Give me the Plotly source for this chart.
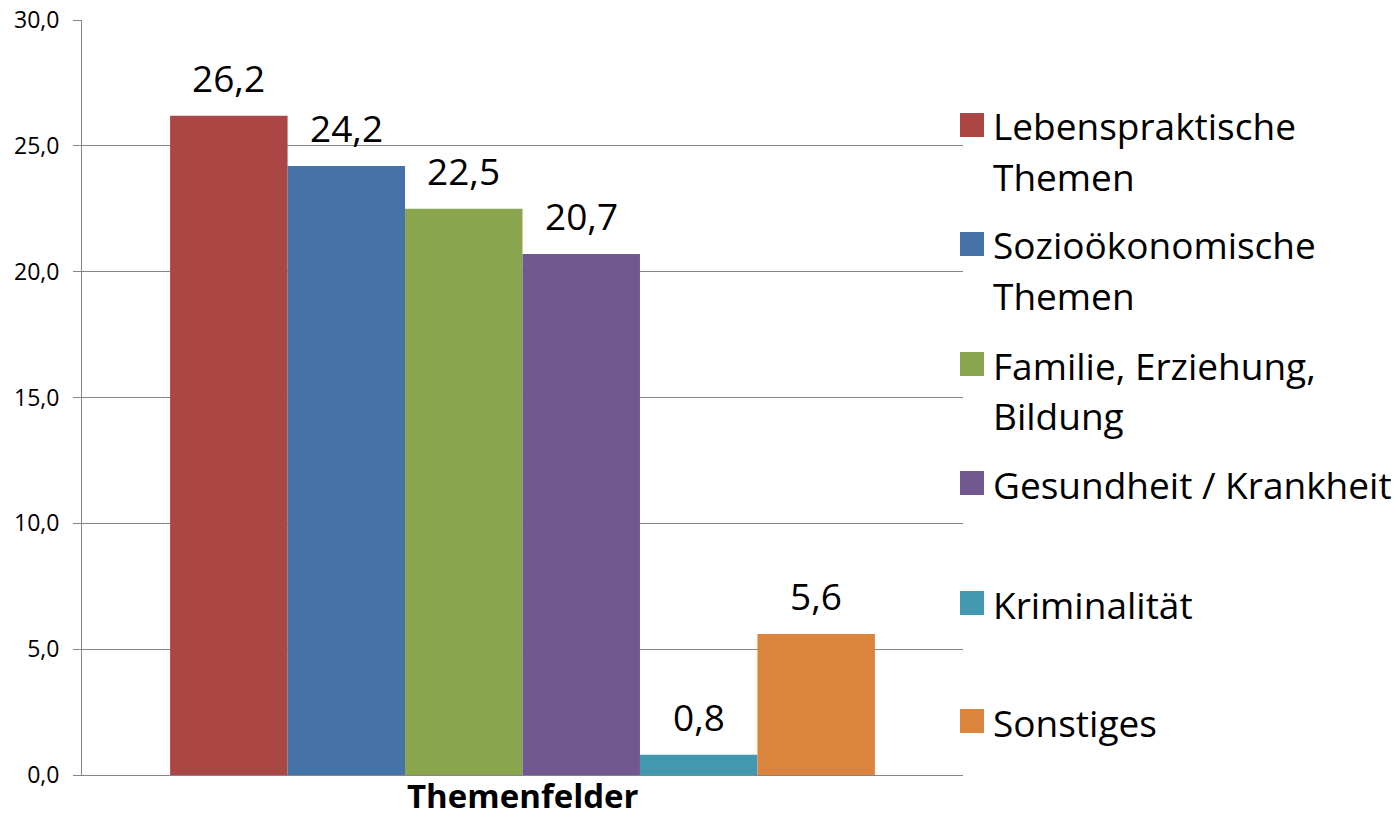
import plotly.graph_objects as go

category = ["Themenfelder"]
series_names = ["Lebenspraktische\nThemen", "Sozioökonomische\nThemen", "Familie, Erziehung,\nBildung",
                "Gesundheit / Krankheit", "Kriminalität", "Sonstiges"]
values = [26.2, 24.2, 22.5, 20.7, 0.8, 5.6]
colors = ["#AA4643", "#4572A7", "#89A54E", "#71588F", "#4198AF", "#DB843D"]
y_ticks = [0, 5, 10, 15, 20, 25, 30]

W, H = 1400, 821
L, R, T, B = 82, 963, 20, 775
FONT = "Open Sans, sans-serif"
BARGAP = 0.2

def px(x):
    return (x - L) / (R - L)

def py(y):
    return (B - y) / (B - T)

fig = go.Figure()
n = len(values)
annotations, shapes = [], []
for i, (name, v, c) in enumerate(zip(series_names, values, colors)):
    fig.add_trace(go.Bar(
        x=category, y=[v], name=name.replace("\n", " "), marker=dict(color=c, line=dict(width=0)),
        showlegend=False, hoverinfo="name+y",
    ))
    # data label above bar
    xc = -(1 - BARGAP) / 2 + (i + 0.5) * (1 - BARGAP) / n
    annotations.append(dict(x=xc, y=v, xref="x", yref="y", text=f"{v:.1f}".replace(".", ","),
                            showarrow=False, yanchor="bottom", yshift=11,
                            font=dict(size=37, color="black", family=FONT)))

# category label under the axis
annotations.append(dict(x=category[0], xref="x", y=py(H - 1), yref="paper", text=category[0],
                        showarrow=False, yanchor="bottom", xanchor="center",
                        font=dict(size=33, color="black", family=FONT, weight="bold")))

# legend drawn as shapes + annotations
line_centers = [[126, 176], [245, 295], [365, 415], [484], [604], [722]]
for name, c, centers in zip(series_names, colors, line_centers):
    lines = name.split("\n")
    y0 = centers[0]
    shapes.append(dict(type="rect", xref="paper", yref="paper",
                       x0=px(960), x1=px(984), y0=py(y0 + 12 - 1), y1=py(y0 - 12 - 1),
                       fillcolor=c, line=dict(width=0)))
    for t, yc in zip(lines, centers):
        annotations.append(dict(text=t, xref="paper", yref="paper", x=px(991), y=py(yc),
                                xanchor="left", yanchor="middle", showarrow=False,
                                font=dict(size=37, color="black", family=FONT)))

fig.update_layout(
    width=W, height=H, plot_bgcolor="white", paper_bgcolor="white",
    margin=dict(l=L, r=W - R, t=T, b=H - B, pad=0),
    barmode="group", bargap=BARGAP, bargroupgap=0,
    separators=",.",
    shapes=shapes, annotations=annotations,
    font=dict(family=FONT, color="black"),
    yaxis=dict(range=[0, 30], tickvals=y_ticks, tickformat=".1f", showgrid=True, automargin=False,
               gridcolor="#868686", gridwidth=1, showline=True, linecolor="#868686", linewidth=1,
               ticks="outside", ticklen=8, tickcolor="#868686", tickfont=dict(size=23, family=FONT),
               ticklabelstandoff=9, zeroline=False),
    xaxis=dict(showline=True, linecolor="#868686", linewidth=1, ticks="", automargin=False,
               showticklabels=False),
)

fig.write_html("out.html", config={"displayModeBar": False},
               post_script="document.body.style.margin='0';document.body.style.overflow='hidden';")
